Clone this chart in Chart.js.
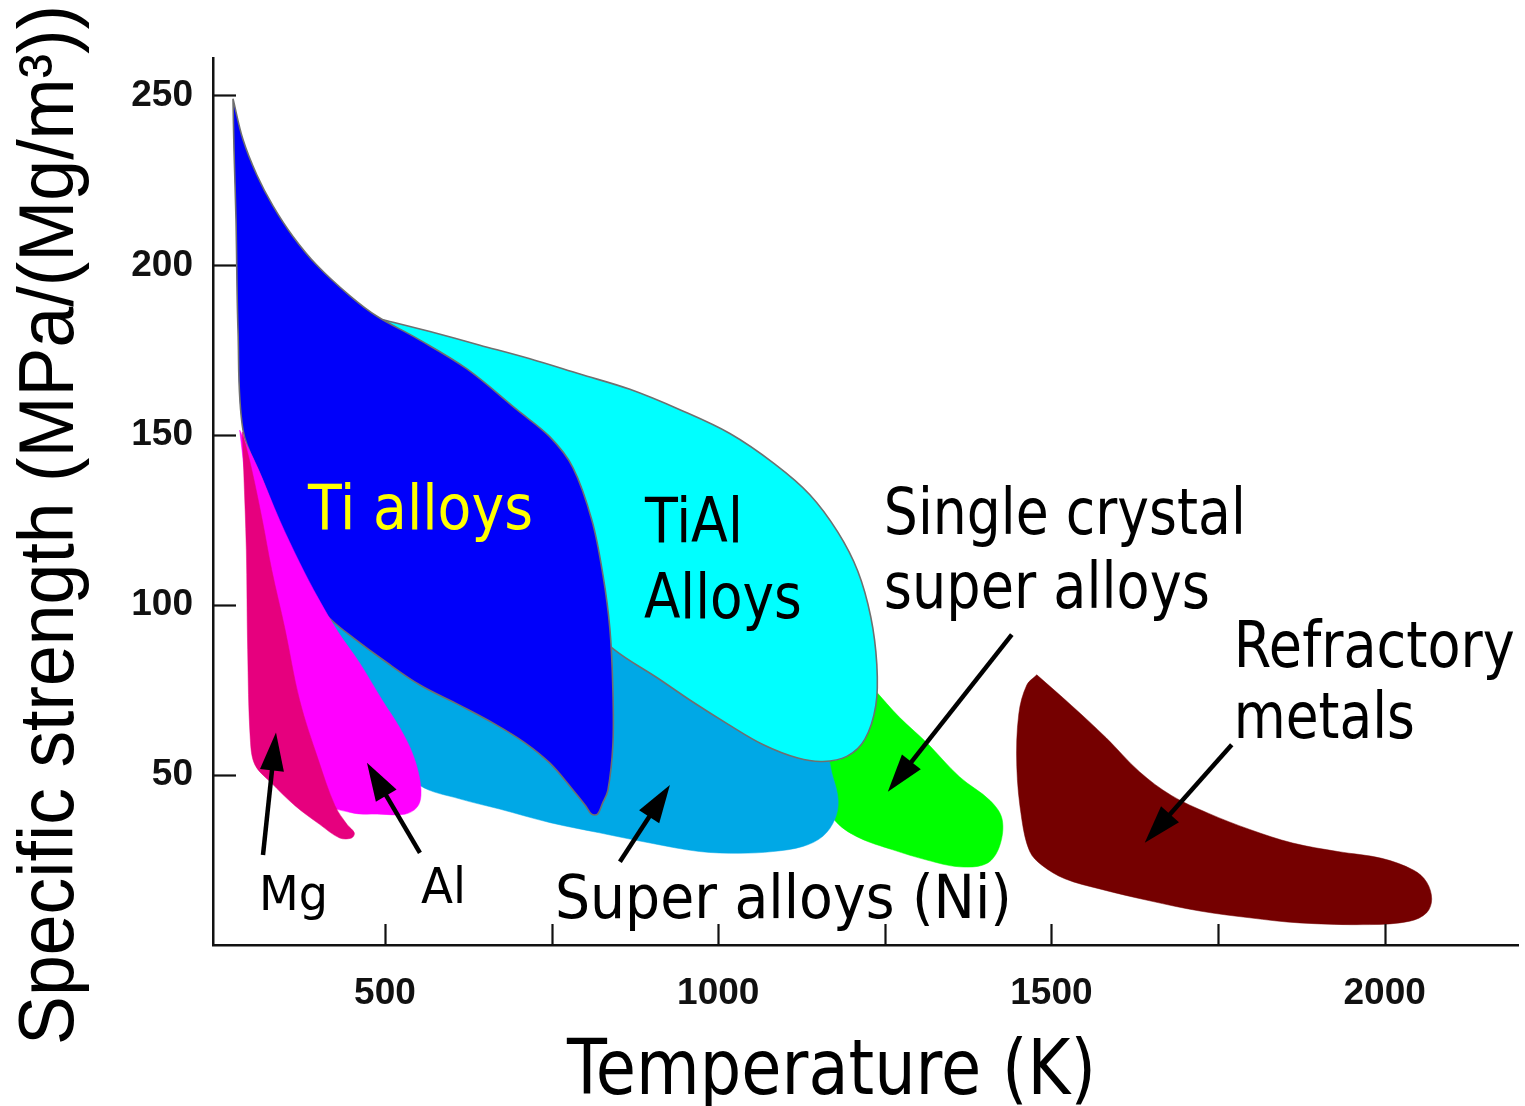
<!DOCTYPE html>
<html>
<head>
<meta charset="utf-8">
<script src="https://cdn.jsdelivr.net/npm/chart.js@4.4.1/dist/chart.umd.min.js"></script>
<style>
  html, body { margin: 0; padding: 0; background: #ffffff; }
  canvas { display: block; }
</style>
</head>
<body>
<canvas id="chart" width="1525" height="1106"></canvas>
<script>
// Outline of each alloy family: temperature (K) and specific strength (MPa/(Mg/m^3))
const tiAlloysK = [272, 287, 308, 332, 362, 398, 447.5, 488, 548, 623, 698, 747.5, 782, 810.5, 827, 837.5, 842, 842, 834.5, 826, 819, 810, 801, 780.5, 747.5, 710, 665, 612.5, 552.5, 500, 455, 417.5, 396.5, 357.5, 315.5, 287, 279.5, 276.5, 273.5];
const tiAlloysS = [249, 237, 226.5, 217.5, 208.5, 200, 191, 185, 178.5, 169.5, 157.5, 149.5, 140.5, 125, 109, 93, 75, 59, 45.5, 41.5, 38.5, 38.5, 41, 46, 53.5, 59.5, 65, 70.5, 76.5, 83.5, 90, 96, 101, 116.5, 137, 151.5, 181, 213.5, 234];

const tiAlK = [497, 567.5, 642.5, 717.5, 792.5, 867.5, 942.5, 1017.5, 1085, 1137.5, 1179.5, 1209.5, 1229, 1238, 1236.5, 1220, 1193, 1157, 1119.5, 1067, 1014.5, 962, 909.5, 843.5, 762.5, 597.5, 522.5];
const tiAlS = [184, 180.5, 176.5, 172.5, 168, 163.5, 157.5, 150.5, 141.5, 132.5, 121.5, 110, 96.5, 82.5, 70.5, 60.5, 55.5, 54, 55, 59, 65, 71.5, 78.5, 87, 101.5, 137, 179];

const niSuperK = [388, 598, 792, 898, 1048, 1157, 1172, 1180, 1175, 1157, 1127, 1082, 1032, 972, 898, 822, 748, 672, 612, 552, 522, 432];
const niSuperS = [103, 90, 90, 84, 69, 57.5, 49.5, 42.5, 37, 32, 29, 27.5, 27, 27.5, 30, 33, 36, 40, 43, 47, 54.5, 84];

const singleCrystalK = [1235, 1272, 1313, 1362, 1408, 1426, 1422, 1403, 1362, 1313, 1262, 1212, 1178, 1145, 1152, 1198, 1228];
const singleCrystalS = [75, 67, 59.5, 49.5, 42.5, 37, 29, 24, 23, 25, 28, 31.5, 36, 45.5, 53, 60.5, 70.5];

const alK = [282, 310, 342, 372, 400, 430, 462, 496, 522, 540, 551, 554, 548, 530, 492, 448, 402, 358, 316, 295];
const alS = [151.5, 140, 125, 112.5, 102, 92, 83, 72, 64, 57, 50, 44, 40.5, 38.5, 38.5, 39, 43, 72, 107.5, 131];

const mgK = [286, 300, 316, 330, 350, 372, 400, 425, 443, 454, 450, 432, 402, 365, 328, 305, 298, 294, 292, 288];
const mgS = [151, 140, 125, 110.5, 93, 72, 54.5, 41, 35.5, 33, 31.5, 31.5, 35.5, 41, 48, 53, 60.5, 87, 116.5, 140];

const refractoryK = [1478, 1530, 1582, 1632, 1680, 1735, 1797.5, 1862, 1929.5, 1995.5, 2043.5, 2063, 2070.5, 2063, 2037.5, 1977.5, 1872.5, 1797.5, 1722.5, 1647.5, 1572.5, 1520, 1485.5, 1467.5, 1455.5, 1448, 1451, 1463];
const refractoryS = [79.5, 70.5, 61, 51, 44, 38.8, 34, 30, 27.5, 25.5, 22, 18.5, 13.5, 9.5, 7, 6, 6.5, 8, 10, 13, 16.5, 19.5, 23.5, 27.5, 37, 52.5, 68, 76.5];

// Axis ticks
const tempTicks = [500, 1000, 1500, 2000];
const tempMinorTicks = [750, 1250, 1750];
const strengthTicks = [50, 100, 150, 200, 250];

// Build a closed outline from a pair of arrays
function outline(ks, ss) {
  const pts = ks.map((k, i) => ({ x: k, y: ss[i] }));
  pts.push({ x: ks[0], y: ss[0] });
  return pts;
}

function region(label, ks, ss, color, order, border) {
  return {
    label,
    data: outline(ks, ss),
    showLine: true,
    fill: 'shape',
    backgroundColor: color,
    borderColor: border ? '#6f6f6f' : color,
    borderWidth: border ? 1.6 : 0.5,
    tension: 0.35,
    pointRadius: 0,
    pointHoverRadius: 0,
    order
  };
}

// Annotation text in data coordinates (left edge, baseline)
const labels = [
  { text: 'Ti alloys', k: 384.5, s: 122.3, size: 62, width: 225, color: '#ffff00' },
  { text: 'TiAl', k: 890, s: 118.7, size: 62, width: 98, color: '#000' },
  { text: 'Alloys', k: 888.5, s: 96.3, size: 62, width: 158, color: '#000' },
  { text: 'Single crystal', k: 1248.5, s: 120.8, size: 64, width: 362, color: '#000' },
  { text: 'super alloys', k: 1248.5, s: 99.3, size: 64, width: 326, color: '#000' },
  { text: 'Refractory', k: 1773.5, s: 81.9, size: 64, width: 281, color: '#000' },
  { text: 'metals', k: 1773.5, s: 61.0, size: 64, width: 181, color: '#000' },
  { text: 'Super alloys (Ni)', k: 755, s: 8.0, size: 60, width: 457, color: '#000' },
  { text: 'Mg', k: 311, s: 10.3, size: 48, width: 69, color: '#000' },
  { text: 'Al', k: 554, s: 12.4, size: 49, width: 45, color: '#000' }
];

// Pointer arrows in data coordinates: tail -> tip
const arrows = [
  { from: [317, 26.5], to: [336.5, 62.5] },
  { from: [552.5, 27.1], to: [473, 53.6] },
  { from: [852.5, 24.5], to: [927.5, 47.1] },
  { from: [1440.5, 91.3], to: [1254.5, 45.1] },
  { from: [1770.5, 58.9], to: [1640, 30.1] }
];

function fittedText(ctx, text, x, y, font, width, color, angle) {
  ctx.save();
  ctx.font = font;
  const w = ctx.measureText(text).width;
  ctx.translate(x, y);
  if (angle) ctx.rotate(angle);
  ctx.scale(width / w, 1);
  ctx.fillStyle = color;
  ctx.textAlign = 'left';
  ctx.textBaseline = 'alphabetic';
  ctx.fillText(text, 0, 0);
  ctx.restore();
}

const decorations = {
  id: 'decorations',
  afterDatasetsDraw(chart) {
    const { ctx, scales: { x, y } } = chart;
    ctx.save();
    // inward tick marks
    ctx.strokeStyle = '#111';
    ctx.lineWidth = 2.2;
    const base = y.getPixelForValue(0);
    tempTicks.concat(tempMinorTicks).forEach(v => {
      const px = Math.round(x.getPixelForValue(v)) + 0.5;
      ctx.beginPath();
      ctx.moveTo(px, base);
      ctx.lineTo(px, base - 21);
      ctx.stroke();
    });
    const left = x.left;
    strengthTicks.forEach(v => {
      const py = Math.round(y.getPixelForValue(v)) + 0.5;
      ctx.beginPath();
      ctx.moveTo(left, py);
      ctx.lineTo(left + 23, py);
      ctx.stroke();
    });

    // arrows
    arrows.forEach(a => {
      const x0 = x.getPixelForValue(a.from[0]), y0 = y.getPixelForValue(a.from[1]);
      const x1 = x.getPixelForValue(a.to[0]), y1 = y.getPixelForValue(a.to[1]);
      const ang = Math.atan2(y1 - y0, x1 - x0);
      const headLen = 38, halfW = 12;
      const bx = x1 - headLen * Math.cos(ang), by = y1 - headLen * Math.sin(ang);
      ctx.strokeStyle = '#000';
      ctx.lineWidth = 4.5;
      ctx.beginPath();
      ctx.moveTo(x0, y0);
      ctx.lineTo(bx + 4 * Math.cos(ang), by + 4 * Math.sin(ang));
      ctx.stroke();
      ctx.fillStyle = '#000';
      ctx.beginPath();
      ctx.moveTo(x1, y1);
      ctx.lineTo(bx + halfW * Math.sin(ang), by - halfW * Math.cos(ang));
      ctx.lineTo(bx - halfW * Math.sin(ang), by + halfW * Math.cos(ang));
      ctx.closePath();
      ctx.fill();
    });

    // region labels
    labels.forEach(l => {
      fittedText(ctx, l.text, x.getPixelForValue(l.k), y.getPixelForValue(l.s),
        l.size + 'px "DejaVu Sans", Verdana, sans-serif', l.width, l.color);
    });
    ctx.restore();
  },
  afterDraw(chart) {
    const { ctx } = chart;
    fittedText(ctx, 'Temperature (K)', 567, 1094, '76px "DejaVu Sans", Verdana, sans-serif', 529, '#000');
    fittedText(ctx, 'Specific strength (MPa/(Mg/m³))', 73, 1045,
      '77px "Liberation Sans", Arial, sans-serif', 1040, '#000', -Math.PI / 2);
  }
};

const tickFont = (size) => ({ family: '"Liberation Sans", Arial, Helvetica, sans-serif', size, weight: 'bold' });

new Chart(document.getElementById('chart'), {
  type: 'scatter',
  data: {
    datasets: [
      region('Refractory metals', refractoryK, refractoryS, '#750000', 1, false),
      region('Mg', mgK, mgS, '#e6007e', 2, false),
      region('Al', alK, alS, '#ff00ff', 3, false),
      region('Ti alloys', tiAlloysK, tiAlloysS, '#0000fa', 4, true),
      region('TiAl alloys', tiAlK, tiAlS, '#00ffff', 5, true),
      region('Super alloys (Ni)', niSuperK, niSuperS, '#00a8e6', 6, false),
      region('Single crystal super alloys', singleCrystalK, singleCrystalS, '#00ff00', 7, false)
    ]
  },
  options: {
    responsive: false,
    animation: false,
    devicePixelRatio: 1,
    layout: { padding: { left: 0, top: 58, right: 7, bottom: 0 } },
    plugins: {
      legend: { display: false },
      tooltip: { enabled: false }
    },
    events: [],
    scales: {
      x: {
        type: 'linear',
        min: 242,
        max: 2200,
        afterBuildTicks: s => { s.ticks = tempTicks.map(v => ({ value: v })); },
        afterFit: s => { s.height = 161; },
        ticks: {
          font: tickFont(37), color: '#111', padding: 27, maxRotation: 0, autoSkip: false,
          callback: v => String(v)
        },
        grid: { display: true, drawOnChartArea: false, drawTicks: false },
        border: { display: true, color: '#111', width: 2.5 }
      },
      y: {
        type: 'linear',
        min: 0,
        max: 261,
        afterBuildTicks: s => { s.ticks = strengthTicks.map(v => ({ value: v })); },
        afterFit: s => { s.width = 213; },
        ticks: { font: tickFont(37), color: '#111', padding: 20, callback: v => String(v) },
        grid: { display: true, drawOnChartArea: false, drawTicks: false },
        border: { display: true, color: '#111', width: 2.5 }
      }
    }
  },
  plugins: [decorations]
});
</script>
</body>
</html>
